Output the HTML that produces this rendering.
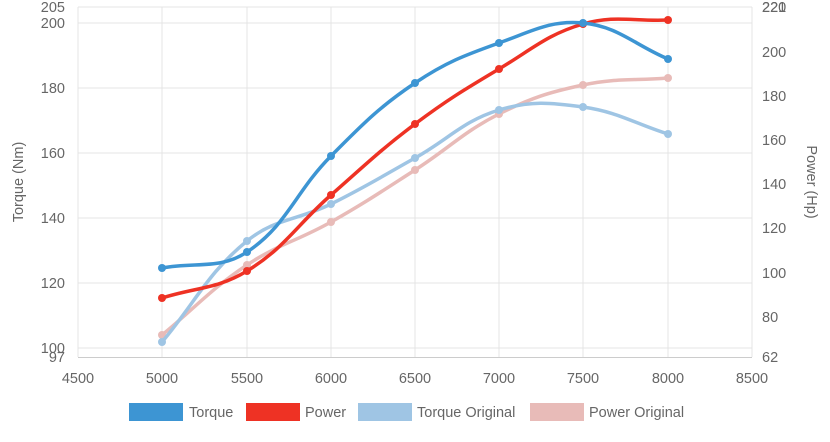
<!DOCTYPE html>
<html><head><meta charset="utf-8"><style>
body{margin:0;background:#fff;width:830px;height:437px;overflow:hidden}
text{font-family:"Liberation Sans",sans-serif;fill:#666;font-size:14.5px}
</style></head><body>
<svg id="s" width="830" height="437" xmlns="http://www.w3.org/2000/svg">
<g stroke="#e4e4e4" stroke-width="1">
<line x1="78" y1="7" x2="78" y2="357"/><line x1="162" y1="7" x2="162" y2="357"/><line x1="247" y1="7" x2="247" y2="357"/><line x1="331" y1="7" x2="331" y2="357"/><line x1="415" y1="7" x2="415" y2="357"/><line x1="499" y1="7" x2="499" y2="357"/><line x1="583" y1="7" x2="583" y2="357"/><line x1="668" y1="7" x2="668" y2="357"/><line x1="752" y1="7" x2="752" y2="357"/>
<line x1="78" y1="7" x2="752" y2="7"/><line x1="78" y1="23" x2="752" y2="23"/><line x1="78" y1="88" x2="752" y2="88"/><line x1="78" y1="153" x2="752" y2="153"/><line x1="78" y1="218" x2="752" y2="218"/><line x1="78" y1="283" x2="752" y2="283"/><line x1="78" y1="348" x2="752" y2="348"/>
</g>
<line x1="78" y1="357.5" x2="752" y2="357.5" stroke="#ccc"/>
<g text-anchor="end">
<text x="65" y="12">205</text><text x="65" y="28">200</text><text x="65" y="93">180</text><text x="65" y="158">160</text><text x="65" y="223">140</text><text x="65" y="288">120</text><text x="65" y="353">100</text><text x="65" y="362">97</text>
</g>
<g text-anchor="start">
<text x="762" y="12">221</text><text x="762" y="12">220</text><text x="762" y="57">200</text><text x="762" y="101">180</text><text x="762" y="145">160</text><text x="762" y="189">140</text><text x="762" y="233">120</text><text x="762" y="278">100</text><text x="762" y="322">80</text><text x="762" y="362">62</text>
</g>
<g text-anchor="middle">
<text x="78" y="383">4500</text><text x="162" y="383">5000</text><text x="247" y="383">5500</text><text x="331" y="383">6000</text><text x="415" y="383">6500</text><text x="499" y="383">7000</text><text x="583" y="383">7500</text><text x="668" y="383">8000</text><text x="752" y="383">8500</text>
</g>
<text transform="translate(23,182) rotate(-90)" text-anchor="middle">Torque (Nm)</text>
<text transform="translate(807,182) rotate(90)" text-anchor="middle">Power (Hp)</text>
<g id="series"></g>
<rect x="129" y="403" width="54" height="18" fill="#3d95d3"/><text x="189" y="417">Torque</text>
<rect x="246" y="403" width="54" height="18" fill="#ee3224"/><text x="305" y="417">Power</text>
<rect x="358" y="403" width="54" height="18" fill="#9fc5e4"/><text x="417" y="417">Torque Original</text>
<rect x="530" y="403" width="54" height="18" fill="#e8bbb8"/><text x="589" y="417">Power Original</text>
</svg>
<script>
var xs=[162,247,331,415,499,583,668];
var S=[
["#e8bbb8",[335,265,222,170,114,85,78]],
["#9fc5e4",[342,241,204,158,110,107,134]],
["#ee3224",[298,271,195,124,69,24,20]],
["#3d95d3",[268,252,156,83,43,23,59]]];
var g=document.getElementById("series"),h="";
S.forEach(function(s){
 var ys=s[1],t=0.4,n=xs.length,cp=[];
 for(var i=0;i<n;i++){
  var p=i>0?i-1:i,q=i<n-1?i+1:i;
  var d01=Math.hypot(xs[i]-xs[p],ys[i]-ys[p]),d12=Math.hypot(xs[q]-xs[i],ys[q]-ys[i]);
  var s01=d01/(d01+d12||1),s12=d12/(d01+d12||1);
  var fa=t*s01,fb=t*s12;
  cp.push([xs[i]-fa*(xs[q]-xs[p]),ys[i]-fa*(ys[q]-ys[p]),xs[i]+fb*(xs[q]-xs[p]),ys[i]+fb*(ys[q]-ys[p])]);
 }
 var d="M"+xs[0]+","+ys[0];
 for(var i=1;i<n;i++)d+=" C"+cp[i-1][2]+","+cp[i-1][3]+" "+cp[i][0]+","+cp[i][1]+" "+xs[i]+","+ys[i];
 h+='<path d="'+d+'" fill="none" stroke="'+s[0]+'" stroke-width="3.5"/>';
 for(var i=0;i<n;i++)h+='<circle cx="'+xs[i]+'" cy="'+ys[i]+'" r="4" fill="'+s[0]+'"/>';
});
g.innerHTML=h;
</script>
</body></html>
